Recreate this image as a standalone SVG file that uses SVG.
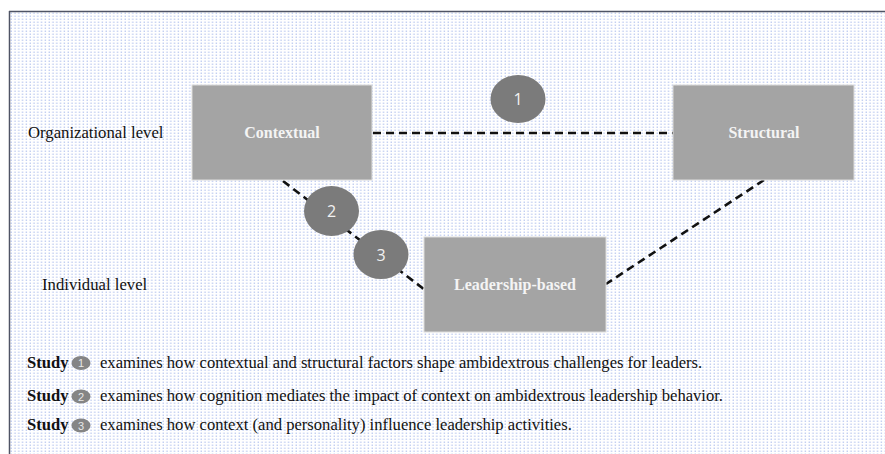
<svg xmlns="http://www.w3.org/2000/svg" width="885" height="454" viewBox="0 0 885 454">
  <defs>
    <pattern id="dots" x="10" y="12" width="3.8" height="3" patternUnits="userSpaceOnUse">
      <rect x="0.6" y="0.6" width="1.2" height="1.2" fill="#a6b8ea"/>
    </pattern>
  </defs>
  <style>
    .box { fill: #a4a4a4; stroke: #dcdcdc; stroke-width: 1; }
    .box-label { font-family: "Liberation Serif", "Times New Roman", serif; font-weight: bold; font-size: 16px; fill: #f4f4f4; text-anchor: middle; }
    .badge { fill: #7b7b7b; }
    .badge-num { font-family: "Open Sans", "Liberation Sans", sans-serif; font-size: 16px; fill: #f2f2f2; text-anchor: middle; }
    .mini { fill: #858585; }
    .mini-num { font-family: "Liberation Sans", Arial, sans-serif; font-size: 11px; fill: #e8e8e8; text-anchor: middle; }
    .level { font-family: "Liberation Serif", "Times New Roman", serif; font-size: 16.7px; fill: #111; }
    .note { font-family: "Liberation Serif", "Times New Roman", serif; font-size: 16.6px; fill: #111; }
    .strong { font-weight: bold; }
    .link { stroke: #111; stroke-width: 2.6; stroke-dasharray: 8 5; fill: none; }
  </style>

  <!-- canvas -->
  <rect x="0" y="0" width="885" height="454" fill="#ffffff"/>
  <rect x="10" y="12" width="875" height="442" fill="url(#dots)"/>
  <line x1="9" y1="11.5" x2="885" y2="11.5" stroke="#4f5465" stroke-width="1.5"/>
  <line x1="9.5" y1="11" x2="9.5" y2="454" stroke="#4f5465" stroke-width="1.5"/>

  <!-- level labels -->
  <text class="level" x="28" y="138">Organizational level</text>
  <text class="level" x="42" y="290">Individual level</text>

  <!-- connectors -->
  <g id="connectors">
    <line class="link" x1="373" y1="133" x2="673" y2="133"/>
    <line class="link" x1="283" y1="181" x2="425" y2="290"/>
    <line class="link" x1="764" y1="180" x2="606" y2="284"/>
  </g>

  <!-- nodes -->
  <g id="contextual">
    <rect class="box" x="192" y="85" width="180" height="95"/>
    <text class="box-label" x="282" y="138">Contextual</text>
  </g>
  <g id="structural">
    <rect class="box" x="673" y="85" width="181" height="95"/>
    <text class="box-label" x="764" y="138">Structural</text>
  </g>
  <g id="leadership-based">
    <rect class="box" x="424" y="237" width="182" height="95"/>
    <text class="box-label" x="515" y="290">Leadership-based</text>
  </g>

  <!-- study badges -->
  <g id="badge-1">
    <ellipse class="badge" cx="518" cy="99" rx="27.5" ry="24"/>
    <text class="badge-num" x="518" y="105">1</text>
  </g>
  <g id="badge-2">
    <ellipse class="badge" cx="331.5" cy="211" rx="27.5" ry="25"/>
    <text class="badge-num" x="331.5" y="217">2</text>
  </g>
  <g id="badge-3">
    <ellipse class="badge" cx="381" cy="254.5" rx="27.5" ry="24.5"/>
    <text class="badge-num" x="381" y="260.5">3</text>
  </g>

  <!-- legend -->
  <g id="legend">
    <text class="note strong" x="27" y="368">Study</text>
    <ellipse class="mini" cx="81" cy="363" rx="9.5" ry="7"/>
    <text class="mini-num" x="81" y="367">1</text>
    <text class="note" x="100" y="368">examines how contextual and structural factors shape ambidextrous challenges for leaders.</text>

    <text class="note strong" x="27" y="401">Study</text>
    <ellipse class="mini" cx="81" cy="396.5" rx="9.5" ry="7"/>
    <text class="mini-num" x="81" y="400.5">2</text>
    <text class="note" x="100" y="401">examines how cognition mediates the impact of context on ambidextrous leadership behavior.</text>

    <text class="note strong" x="27" y="430">Study</text>
    <ellipse class="mini" cx="81" cy="425.5" rx="9.5" ry="7"/>
    <text class="mini-num" x="81" y="429.5">3</text>
    <text class="note" x="100" y="430">examines how context (and personality) influence leadership activities.</text>
  </g>
</svg>
